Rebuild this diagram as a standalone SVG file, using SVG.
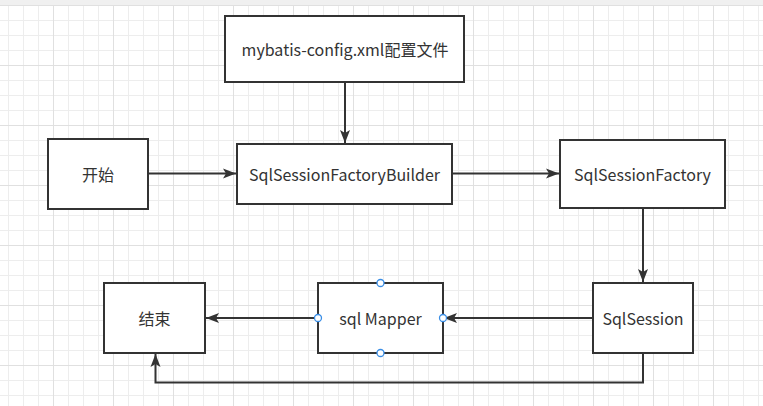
<svg xmlns="http://www.w3.org/2000/svg" width="763" height="406" viewBox="0 0 763 406">
<style>
.box{fill:#fff;stroke:#333;stroke-width:2}
.lbl{font-family:"Noto Sans CJK SC","Open Sans",sans-serif;font-size:16px;fill:#333;text-anchor:middle;dominant-baseline:central}
.edge{fill:none;stroke:#333;stroke-width:2}
.hdl{fill:#fff;stroke:#3a8ee6;stroke-width:1.3}
</style>
<defs>
<pattern id="minor" x="8" y="5" width="15" height="15" patternUnits="userSpaceOnUse">
<path d="M0 0.5H15M0.5 0V15" stroke="#ededed" stroke-width="1" fill="none"/>
</pattern>
<pattern id="major" x="53" y="5" width="60" height="60" patternUnits="userSpaceOnUse">
<path d="M0 0.5H60M0.5 0V60" stroke="#e0e0e0" stroke-width="1" fill="none"/>
</pattern>
<marker id="arr" markerUnits="userSpaceOnUse" markerWidth="14" markerHeight="12" viewBox="0 0 14 12" refX="13" refY="6" orient="auto">
<path d="M0 1L13 6L0 11L3 6Z" fill="#333"/>
</marker>
</defs>
<rect width="763" height="406" fill="#fff"/>
<rect width="763" height="406" fill="url(#minor)"/>
<rect width="763" height="406" fill="url(#major)"/>
<rect width="763" height="5" fill="#f0f0f0"/>
<g id="connectors">
<path class="edge" d="M345 82V143" marker-end="url(#arr)"/>
<path class="edge" d="M148 173.5H236" marker-end="url(#arr)"/>
<path class="edge" d="M452 173.5H559" marker-end="url(#arr)"/>
<path class="edge" d="M643 208V282" marker-end="url(#arr)"/>
<path class="edge" d="M593 318H444" marker-end="url(#arr)"/>
<path class="edge" d="M318 318H206" marker-end="url(#arr)"/>
<path class="edge" d="M643 353V382.5H155.5V354" marker-end="url(#arr)"/>
</g>
<g id="config">
<rect class="box" x="225" y="16" width="239" height="66"/>
<text class="lbl" x="345" y="49">mybatis-config.xml配置文件</text>
</g>
<g id="start">
<rect class="box" x="48" y="139" width="100" height="70"/>
<text class="lbl" x="98" y="174">开始</text>
</g>
<g id="builder">
<rect class="box" x="237" y="144" width="215" height="60"/>
<text class="lbl" x="344.5" y="174">SqlSessionFactoryBuilder</text>
</g>
<g id="factory">
<rect class="box" x="560" y="140" width="165" height="68"/>
<text class="lbl" x="642.5" y="174">SqlSessionFactory</text>
</g>
<g id="session">
<rect class="box" x="593" y="283" width="100" height="70"/>
<text class="lbl" x="643" y="318">SqlSession</text>
</g>
<g id="mapper">
<rect class="box" x="318" y="283" width="125" height="70"/>
<text class="lbl" x="380.5" y="318">sql Mapper</text>
<circle class="hdl" cx="318" cy="318" r="3.5"/>
<circle class="hdl" cx="443" cy="318" r="3.5"/>
<circle class="hdl" cx="380.5" cy="283" r="3.5"/>
<circle class="hdl" cx="380.5" cy="353" r="3.5"/>
</g>
<g id="end">
<rect class="box" x="104" y="283" width="101" height="70"/>
<text class="lbl" x="154.5" y="318">结束</text>
</g>
</svg>
